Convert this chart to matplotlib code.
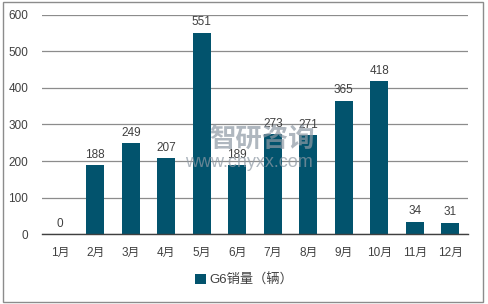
import numpy as np
import matplotlib.pyplot as plt
from matplotlib.patches import Rectangle

plt.rcParams['font.family'] = ['Liberation Sans', 'Noto Sans CJK SC', 'DejaVu Sans']

months = ['1月', '2月', '3月', '4月', '5月', '6月', '7月', '8月', '9月', '10月', '11月', '12月']
sales = [0, 188, 249, 207, 551, 189, 273, 271, 365, 418, 34, 31]
series_name = 'G6销量（辆）'

bar_color = '#02536D'
text_color = '#404040'

fig = plt.figure(figsize=(4.89, 3.04), dpi=100)
ax = fig.add_axes([0.086, 0.230, 0.871, 0.721])

x = np.arange(len(months))
bars = ax.bar(x, sales, width=0.5, color=bar_color, label=series_name, zorder=2)

for xi, v in zip(x, sales):
    ax.text(xi, v + 12, f"{v}", ha='center', va='bottom', fontsize=8.5, color=text_color, zorder=3)

ax.set_xlim(-0.5, len(months) - 0.5)
ax.set_ylim(0, 600)
ax.set_yticks(range(0, 601, 100))
ax.set_xticks(x)
ax.set_xticklabels(months)
ax.tick_params(axis='both', length=0, labelsize=8.5, colors=text_color)
ax.tick_params(axis='x', pad=9)
ax.tick_params(axis='y', pad=10)
ax.grid(axis='y', color='#8C8C8C', linewidth=0.9, zorder=0)
for s in ['top', 'right', 'left']:
    ax.spines[s].set_visible(False)
ax.spines['bottom'].set_color('#404040')
ax.spines['bottom'].set_linewidth(1.0)

leg = fig.legend(loc='center', bbox_to_anchor=(0.5, 0.078), frameon=False,
                 fontsize=9.5, handlelength=0.8, handleheight=0.8, handletextpad=0.3)
for t in leg.get_texts():
    t.set_color(text_color)

# watermark (semi-transparent overlay, as in the source image)
fig.text(0.535, 0.54, '智研咨询', fontsize=19, color='#8E99A4', alpha=0.7,
         ha='center', va='center', fontweight='bold', zorder=5)
fig.text(0.508, 0.465, 'www.chyxx.com', fontsize=13, color='#8E99A4', alpha=0.7,
         ha='center', va='center', zorder=5)

# outer border
fig.patches.append(Rectangle((0.006, 0.006), 0.982, 0.988, transform=fig.transFigure,
                             fill=False, edgecolor='#8C8C8C', linewidth=1.0))

fig.savefig('out.png', dpi=100)
